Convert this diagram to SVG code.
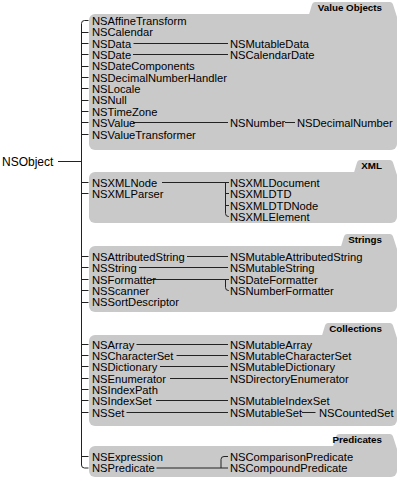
<svg xmlns="http://www.w3.org/2000/svg" width="400" height="479" viewBox="0 0 400 479">
<style>
.box{fill:#c9c9c9}
text{font-family:"Liberation Sans",Arial,Helvetica,sans-serif;font-size:11.2px;fill:#000}
.tab{font-weight:bold;font-size:9.8px;text-anchor:end}
.root{font-size:12px}
.c{fill:none;stroke:#222;stroke-width:1}
</style>
<rect width="400" height="479" fill="#fff"/>
<g id="box-value-objects">
<rect class="box" x="89" y="14" width="308" height="136" rx="6"/>
<path class="box" d="M309,14.5 L312,4.5 Q312.5,2 315,2 L390,2 Q392.5,2 393,4.5 L397,17 L397,22 L309,22 Z"/>
<text class="tab" x="382" y="11">Value Objects</text>
</g>
<g id="box-xml">
<rect class="box" x="89" y="172" width="308" height="51" rx="6"/>
<path class="box" d="M354,172.5 L357,162.5 Q357.5,160 360,160 L390,160 Q392.5,160 393,162.5 L397,175 L397,180 L354,180 Z"/>
<text class="tab" x="382" y="169">XML</text>
</g>
<g id="box-strings">
<rect class="box" x="89" y="246" width="308" height="66" rx="6"/>
<path class="box" d="M341,246.5 L344,236.5 Q344.5,234 347,234 L390,234 Q392.5,234 393,236.5 L397,249 L397,254 L341,254 Z"/>
<text class="tab" x="382" y="243">Strings</text>
</g>
<g id="box-collections">
<rect class="box" x="89" y="335" width="308" height="91" rx="6"/>
<path class="box" d="M322,335.5 L325,325.5 Q325.5,323 328,323 L390,323 Q392.5,323 393,325.5 L397,338 L397,343 L322,343 Z"/>
<text class="tab" x="382" y="332">Collections</text>
</g>
<g id="box-predicates">
<rect class="box" x="89" y="446" width="308" height="31" rx="6"/>
<path class="box" d="M333,446.5 L336,436.5 Q336.5,434 339,434 L390,434 Q392.5,434 393,436.5 L397,449 L397,454 L333,454 Z"/>
<text class="tab" x="382" y="443">Predicates</text>
</g>
<g id="connectors" class="c">
<path d="M58,161.5 H81.5"/>
<path d="M88.5,20.5 H84.5 Q81.5,20.5 81.5,23.5 V465 Q81.5,468 84.5,468 H88.5"/>
<path d="M81.5,32.5H88.5 M81.5,43.5H88.5 M81.5,54.5H88.5 M81.5,66.5H88.5 M81.5,77.5H88.5 M81.5,88.5H88.5 M81.5,100.5H88.5 M81.5,111.5H88.5 M81.5,122.5H88.5 M81.5,134.5H88.5"/>
<path d="M81.5,182.5H88.5 M81.5,193.5H88.5"/>
<path d="M81.5,256.5H88.5 M81.5,267.5H88.5 M81.5,279.5H88.5 M81.5,290.5H88.5 M81.5,302.5H88.5"/>
<path d="M81.5,344.5H88.5 M81.5,355.5H88.5 M81.5,366.5H88.5 M81.5,378.5H88.5 M81.5,389.5H88.5 M81.5,400.5H88.5 M81.5,412.5H88.5"/>
<path d="M81.5,456.5H88.5"/>
<path d="M133.5,43.5H228 M133,54.5H228 M133,122.5H228 M285,122.5H295"/>
<path d="M162,182.5H229 M225.5,182.5V213.5 Q225.5,216.5 228.5,216.5 H229 M225.5,193.5H229 M225.5,205.5H229"/>
<path d="M187,256.5H228 M139,267.5H228 M150.5,279.5H229 M225.5,279.5V287.5 Q225.5,290.5 228.5,290.5 H229"/>
<path d="M136.5,344.5H228 M176.5,355.5H228 M160,366.5H228 M170,378.5H228 M156,400.5H228 M126.5,412.5H228 M302,412.5H315.5"/>
<path d="M156.5,468H228 M228,456.5H224 Q221,456.5 221,459.5 V468"/>
</g>
<g id="node-NSObject"><text class="root" x="2" y="166">NSObject</text></g>
<g id="nodes-value-objects">
<g id="node-NSAffineTransform"><text x="92" y="24.8">NSAffineTransform</text></g>
<g id="node-NSCalendar"><text x="92" y="36.3">NSCalendar</text></g>
<g id="node-NSData"><text x="92" y="47.6">NSData</text></g>
<g id="node-NSMutableData"><text x="230" y="47.6">NSMutableData</text></g>
<g id="node-NSDate"><text x="92" y="58.9">NSDate</text></g>
<g id="node-NSCalendarDate"><text x="230" y="58.9">NSCalendarDate</text></g>
<g id="node-NSDateComponents"><text x="92" y="70.3">NSDateComponents</text></g>
<g id="node-NSDecimalNumberHandler"><text x="92" y="81.6">NSDecimalNumberHandler</text></g>
<g id="node-NSLocale"><text x="92" y="93">NSLocale</text></g>
<g id="node-NSNull"><text x="92" y="104.3">NSNull</text></g>
<g id="node-NSTimeZone"><text x="92" y="115.7">NSTimeZone</text></g>
<g id="node-NSValue"><text x="92" y="127">NSValue</text></g>
<g id="node-NSNumber"><text x="230" y="127">NSNumber</text></g>
<g id="node-NSDecimalNumber"><text x="297" y="127">NSDecimalNumber</text></g>
<g id="node-NSValueTransformer"><text x="92" y="138.6">NSValueTransformer</text></g>
</g>
<g id="nodes-xml">
<g id="node-NSXMLNode"><text x="92" y="186.8">NSXMLNode</text></g>
<g id="node-NSXMLParser"><text x="92" y="197.8">NSXMLParser</text></g>
<g id="node-NSXMLDocument"><text x="230" y="186.8">NSXMLDocument</text></g>
<g id="node-NSXMLDTD"><text x="230" y="197.8">NSXMLDTD</text></g>
<g id="node-NSXMLDTDNode"><text x="230" y="209.5">NSXMLDTDNode</text></g>
<g id="node-NSXMLElement"><text x="230" y="220.6">NSXMLElement</text></g>
</g>
<g id="nodes-strings">
<g id="node-NSAttributedString"><text x="92" y="260.8">NSAttributedString</text></g>
<g id="node-NSMutableAttributedString"><text x="230" y="260.8">NSMutableAttributedString</text></g>
<g id="node-NSString"><text x="92" y="272">NSString</text></g>
<g id="node-NSMutableString"><text x="230" y="272">NSMutableString</text></g>
<g id="node-NSFormatter"><text x="92" y="283.5">NSFormatter</text></g>
<g id="node-NSDateFormatter"><text x="230" y="283.5">NSDateFormatter</text></g>
<g id="node-NSScanner"><text x="92" y="294.8">NSScanner</text></g>
<g id="node-NSNumberFormatter"><text x="230" y="294.8">NSNumberFormatter</text></g>
<g id="node-NSSortDescriptor"><text x="92" y="306.3">NSSortDescriptor</text></g>
</g>
<g id="nodes-collections">
<g id="node-NSArray"><text x="92" y="348.6">NSArray</text></g>
<g id="node-NSMutableArray"><text x="230" y="348.6">NSMutableArray</text></g>
<g id="node-NSCharacterSet"><text x="92" y="359.9">NSCharacterSet</text></g>
<g id="node-NSMutableCharacterSet"><text x="230" y="359.9">NSMutableCharacterSet</text></g>
<g id="node-NSDictionary"><text x="92" y="371.2">NSDictionary</text></g>
<g id="node-NSMutableDictionary"><text x="230" y="371.2">NSMutableDictionary</text></g>
<g id="node-NSEnumerator"><text x="92" y="382.6">NSEnumerator</text></g>
<g id="node-NSDirectoryEnumerator"><text x="230" y="382.6">NSDirectoryEnumerator</text></g>
<g id="node-NSIndexPath"><text x="92" y="393.9">NSIndexPath</text></g>
<g id="node-NSIndexSet"><text x="92" y="405.2">NSIndexSet</text></g>
<g id="node-NSMutableIndexSet"><text x="230" y="405.2">NSMutableIndexSet</text></g>
<g id="node-NSSet"><text x="92" y="416.6">NSSet</text></g>
<g id="node-NSMutableSet"><text x="230" y="416.6">NSMutableSet</text></g>
<g id="node-NSCountedSet"><text x="319" y="416.6">NSCountedSet</text></g>
</g>
<g id="nodes-predicates">
<g id="node-NSExpression"><text x="92" y="460.8">NSExpression</text></g>
<g id="node-NSPredicate"><text x="92" y="472.2">NSPredicate</text></g>
<g id="node-NSComparisonPredicate"><text x="230" y="460.8">NSComparisonPredicate</text></g>
<g id="node-NSCompoundPredicate"><text x="230" y="472.2">NSCompoundPredicate</text></g>
</g>
</svg>
